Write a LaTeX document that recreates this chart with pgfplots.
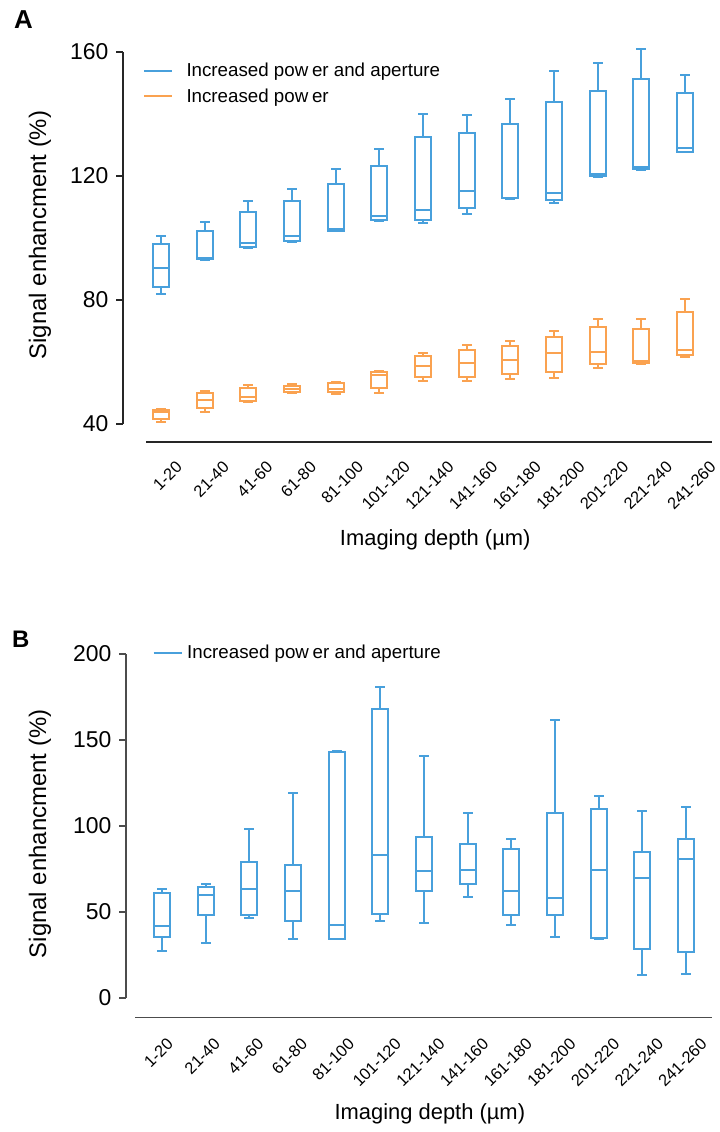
\documentclass[border=0pt]{standalone}
\usepackage{pgfplots}
\usepackage{pgfplotstable}
\pgfplotsset{compat=1.18}
\usepackage{fontspec}
\setmainfont{Liberation Sans}
\definecolor{cblue}{RGB}{72,160,220}
\definecolor{corange}{RGB}{250,162,80}

% columns: position, lower whisker, lower quartile, median, upper quartile, upper whisker
\pgfplotstableread{
pos lw lq med uq uw
0 81.9 84.1 90.2 98.1 100.6
1 93.0 93.3 93.5 102.2 105.2
2 96.8 97.0 98.3 108.5 111.9
3 98.8 99.1 100.6 111.9 115.7
4 102.1 102.4 102.8 117.5 122.4
5 105.5 105.8 107.1 123.3 128.6
6 104.7 105.8 109.0 132.5 140.1
7 107.7 109.6 115.2 133.8 139.8
8 112.5 112.8 113.0 136.8 144.8
9 111.3 112.2 114.6 144.0 153.8
10 119.8 120.0 120.5 147.5 156.5
11 122.0 122.2 123.0 151.3 160.8
12 127.6 127.8 129.1 146.8 152.7
}\dataAblue
\pgfplotstableread{
pos lw lq med uq uw
0 40.6 41.5 44.0 44.5 44.8
1 44.0 45.0 47.7 49.9 50.6
2 47.2 47.5 48.8 51.6 52.6
3 50.0 50.2 51.4 52.4 53.0
4 49.7 50.4 51.2 53.3 53.7
5 50.1 51.5 55.8 56.8 57.1
6 53.9 55.3 58.7 62.0 63.0
7 53.9 55.1 59.7 64.0 65.6
8 54.4 56.0 60.5 65.1 66.7
9 54.7 56.9 63.0 68.1 70.0
10 58.2 59.5 63.2 71.4 74.0
11 59.5 59.8 60.3 70.5 74.0
12 61.5 62.3 63.8 76.1 80.3
}\dataAorange
\pgfplotstableread{
pos lw lq med uq uw
0 27.3 35.7 42.1 61.2 63.3
1 32.0 48.3 60.0 64.7 66.1
2 46.6 48.1 63.2 79.1 98.2
3 34.3 44.6 62.0 77.2 119.1
4 34.3 34.5 42.7 143.3 143.5
5 44.8 49.1 82.9 167.8 181.1
6 43.7 62.0 73.9 93.4 140.9
7 58.7 66.3 74.5 89.5 107.4
8 42.7 48.0 62.2 86.7 92.6
9 35.7 48.5 57.9 107.8 161.4
10 34.5 34.7 74.5 110.1 117.7
11 13.5 28.5 70.0 84.8 108.6
12 14.0 26.9 81.1 92.6 110.9
}\dataB

% box plots drawn as line segments (quiver) from the table values
\newcommand\boxes[2]{%
\addplot[draw=#2, line width=2bp, line cap=rect, mark=none, forget plot, quiver={u=0, v=\thisrow{uq}-\thisrow{lq}}] table[x expr=\thisrow{pos}-0.183, y=lq] {#1};
\addplot[draw=#2, line width=2bp, line cap=rect, mark=none, forget plot, quiver={u=0, v=\thisrow{uq}-\thisrow{lq}}] table[x expr=\thisrow{pos}+0.183, y=lq] {#1};
\addplot[draw=#2, line width=2bp, line cap=rect, mark=none, forget plot, quiver={u=0.366, v=0}] table[x expr=\thisrow{pos}-0.183, y=lq] {#1};
\addplot[draw=#2, line width=2bp, line cap=rect, mark=none, forget plot, quiver={u=0.366, v=0}] table[x expr=\thisrow{pos}-0.183, y=uq] {#1};
\addplot[draw=#2, line width=2bp, line cap=rect, mark=none, forget plot, quiver={u=0.366, v=0}] table[x expr=\thisrow{pos}-0.183, y=med] {#1};
\addplot[draw=#2, line width=2bp, line cap=rect, mark=none, forget plot, quiver={u=0, v=\thisrow{uw}-\thisrow{uq}}] table[x=pos, y=uq] {#1};
\addplot[draw=#2, line width=2bp, line cap=rect, mark=none, forget plot, quiver={u=0, v=\thisrow{lq}-\thisrow{lw}}] table[x=pos, y=lw] {#1};
\addplot[draw=#2, line width=2bp, line cap=rect, mark=none, forget plot, quiver={u=0.183, v=0}] table[x expr=\thisrow{pos}-0.0915, y=uw] {#1};
\addplot[draw=#2, line width=2bp, line cap=rect, mark=none, forget plot, quiver={u=0.183, v=0}] table[x expr=\thisrow{pos}-0.0915, y=lw] {#1};
}

\pgfplotsset{
  myaxis/.style={
    scale only axis, anchor=south west, clip=false,
    axis x line=bottom, axis y line=left,
    axis line style={-},
    tick align=outside, major tick length=7bp,
    xtick={0,...,12},
    xticklabels={\rotatebox{45}{1-20},\rotatebox{45}{21-40},\rotatebox{45}{41-60},\rotatebox{45}{61-80},\rotatebox{45}{81-100},\rotatebox{45}{101-120},\rotatebox{45}{121-140},\rotatebox{45}{141-160},\rotatebox{45}{161-180},\rotatebox{45}{181-200},\rotatebox{45}{201-220},\rotatebox{45}{221-240},\rotatebox{45}{241-260}},
    x tick style={draw=none},
    xticklabel style={font=\fontsize{16.5}{16.5}\selectfont, anchor=north, inner sep=0pt},
    yticklabel style={font=\fontsize{23}{23}\selectfont, xshift=-4bp},
    /pgf/number format/assume math mode=true,
    ylabel={Signal enhancment (\%)},
    xlabel={Imaging depth (µm)},
    ylabel style={font=\fontsize{24}{24}\selectfont, anchor=center},
    xlabel style={font=\fontsize{22}{22}\selectfont, anchor=center},
    legend cell align=left,
    legend image code/.code={\draw[##1] (0bp,0bp) -- (28bp,0bp);},
  }
}
\begin{document}
\begin{tikzpicture}[x=1bp,y=1bp]
\useasboundingbox (0,0) rectangle (720,1132);
\node[anchor=north west, inner sep=0pt, font=\fontsize{26}{26}\selectfont\bfseries] at (14,1122) {A};
\node[anchor=north west, inner sep=0pt, font=\fontsize{24}{24}\selectfont\bfseries] at (12,501) {B};

\begin{axis}[myaxis, at={(146bp,708bp)}, width=566bp, height=372bp,
  xmin=-0.3435, xmax=12.617, ymin=40, ymax=160, ytick={40,80,120,160},
  axis x line shift=18bp, axis y line shift=23bp,
  axis line style={line width=1.2bp, black!85}, y tick style={line width=1.2bp, black!85},
  xticklabel style={xshift=6.5bp, yshift=-11bp},
  ylabel style={at={(axis description cs:-0.1873,0.508)}},
  xlabel style={at={(axis description cs:0.511,-0.312)}},
  legend style={at={(axis description cs:0,1)}, anchor=north west, xshift=-3bp, yshift=-11bp,
    draw=none, fill=none, inner sep=0pt, outer sep=0pt, row sep=10.5bp, column sep=13.5bp,
    font=\fontsize{18.8}{22}\selectfont, nodes={inner sep=0pt}},
]
\addlegendimage{cblue, line width=2bp}
\addlegendentry{Increased pow\kern0.2em er and aperture}
\addlegendimage{corange, line width=2bp}
\addlegendentry{Increased pow\kern0.2em er}
\boxes{\dataAblue}{cblue}
\boxes{\dataAorange}{corange}
\end{axis}

\begin{axis}[myaxis, at={(135bp,134bp)}, width=577bp, height=344bp,
  xmin=-0.618, xmax=12.594, ymin=0, ymax=200, ytick={0,50,100,150,200},
  axis x line shift=19.7bp, axis y line shift=9bp,
  axis line style={line width=1.5bp, black!70}, y tick style={line width=1.2bp, black!70},
  xticklabel style={xshift=-3.5bp, yshift=-12.3bp},
  ylabel style={at={(axis description cs:-0.1646,0.477)}},
  xlabel style={at={(axis description cs:0.511,-0.337)}},
  legend style={at={(axis description cs:0,1)}, anchor=north west, xshift=17.7bp, yshift=9bp,
    draw=none, fill=none, inner sep=0pt, outer sep=0pt, column sep=4.5bp,
    font=\fontsize{18.8}{22}\selectfont, nodes={inner sep=0pt}},
]
\addlegendimage{cblue, line width=2bp}
\addlegendentry{Increased pow\kern0.2em er and aperture}
\boxes{\dataB}{cblue}
\end{axis}
\end{tikzpicture}
\end{document}
